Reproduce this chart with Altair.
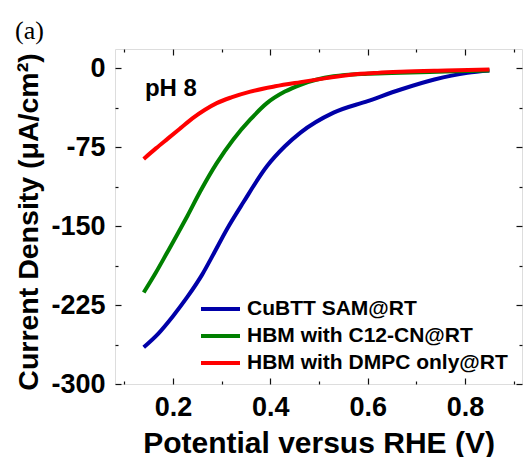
import altair as alt
import pandas as pd

# ---- data ----
series_names = ["CuBTT SAM@RT", "HBM with C12-CN@RT", "HBM with DMPC only@RT"]
series_colors = ["#0000A8", "#008000", "#FF0000"]

blue_x = [0.14, 0.17, 0.20, 0.23, 0.26, 0.285, 0.31, 0.345, 0.393, 0.43, 0.462, 0.53, 0.60, 0.668, 0.737, 0.805, 0.85]
blue_y = [-265, -252, -235.5, -217, -196, -175, -153.5, -127, -93, -74, -61, -42, -31, -20, -10.5, -4.2, -2]

green_x = [0.14, 0.165, 0.187, 0.21, 0.23, 0.256, 0.29, 0.324, 0.359, 0.393, 0.43, 0.462, 0.53, 0.60, 0.668, 0.76, 0.85]
green_y = [-213, -194, -176, -157, -140, -117, -90, -67.5, -48.5, -33, -22, -15.5, -7.5, -5, -4, -3, -2]

red_x = [0.14, 0.165, 0.19, 0.215, 0.24, 0.265, 0.29, 0.32, 0.359, 0.41, 0.462, 0.515, 0.565, 0.62, 0.668, 0.76, 0.85]
red_y = [-86, -76, -66.5, -57, -47.5, -39.5, -33, -27.5, -22, -17, -13, -9.2, -6, -4.2, -3.2, -2, -1]

x_major = [0.2, 0.4, 0.6, 0.8]
x_minor = [0.1, 0.3, 0.5, 0.7, 0.9]
y_major = [0, -75, -150, -225, -300]
y_minor = [-37.5, -112.5, -187.5, -262.5]

x_title = "Potential versus RHE (V)"
y_title = "Current Density (μA/cm²)"
ph_label = "pH 8"
panel_label = "(a)"

rows = []
for name, xs_, ys_, k in [(series_names[0], blue_x, blue_y, 0),
                          (series_names[1], green_x, green_y, 1),
                          (series_names[2], red_x, red_y, 2)]:
    for xv, yv in zip(xs_, ys_):
        rows.append({"series": name, "x": xv, "y": yv, "k": k})
df = pd.DataFrame(rows)

FONT = "Liberation Sans"
xs = alt.Scale(domain=[0.081, 0.917], nice=False, zero=False)
ys = alt.Scale(domain=[-300, 18.5], nice=False, zero=False)

base = alt.Chart(df)

def tick_axis(orient, values, size):
    return alt.Axis(orient=orient, values=values, labels=False, domain=False, grid=False,
                    ticks=True, tickSize={"expr": str(-size)}, tickColor="#111", tickWidth=1.2,
                    title=None)

lines = base.mark_line(strokeWidth=4, interpolate="monotone").encode(
    x=alt.X("x:Q", scale=xs, axis=alt.Axis(
        orient="bottom", values=x_major, format=".1f", ticks=False, domain=False, grid=False,
        labelFont=FONT, labelFontWeight="bold", labelFontSize=27, labelColor="black",
        labelPadding=10,
        title=x_title, titleFont=FONT, titleFontWeight="bold", titleFontSize=30,
        titleColor="black", titleY=68, titleBaseline="alphabetic")),
    y=alt.Y("y:Q", scale=ys, axis=alt.Axis(
        orient="left", values=y_major, ticks=False, domain=False, grid=False,
        labelExpr="toString(datum.value)",
        labelFont=FONT, labelFontWeight="bold", labelFontSize=27, labelColor="black",
        labelPadding=10,
        title=y_title, titleFont=FONT, titleFontWeight="bold", titleFontSize=28.5,
        titleColor="black", titleX=-78, titleY=172.5, titleBaseline="alphabetic")),
    color=alt.Color("series:N", scale=alt.Scale(domain=series_names, range=series_colors),
                    legend=alt.Legend(orient="none", legendX=84, legendY=246.5, title=None,
                                      symbolType="stroke", symbolStrokeWidth=4, symbolSize=1521,
                                      labelFont=FONT, labelFontSize=21, labelFontWeight="bold",
                                      labelColor="black", labelOffset=5, rowPadding=0,
                                      clipHeight=27, labelLimit=0, padding=0)),
    order=alt.Order("k:Q"),
)

def tick_layer(xo, xv, xsz, yo, yv, ysz):
    return base.mark_line(opacity=0).encode(
        x=alt.X("x:Q", scale=xs, axis=tick_axis(xo, xv, xsz)),
        y=alt.Y("y:Q", scale=ys, axis=tick_axis(yo, yv, ysz)),
    )

t1 = tick_layer("bottom", x_major, 6, "left", y_major, 6)
t2 = tick_layer("bottom", x_minor, 3, "left", y_minor, 3)
t3 = tick_layer("top", x_major, 6, "right", y_major, 6)
t4 = tick_layer("top", x_minor, 3, "right", y_minor, 3)

ph = alt.Chart(pd.DataFrame({"x": [0.1425], "y": [-26.6], "t": [ph_label]})).mark_text(
    font=FONT, fontWeight="bold", fontSize=24, align="left", baseline="alphabetic", color="black"
).encode(x=alt.X("x:Q", scale=xs, axis=None), y=alt.Y("y:Q", scale=ys, axis=None), text="t:N")

chart = alt.layer(lines, t1, t2, t3, t4, ph).resolve_axis(
    x="independent", y="independent"
).properties(
    width=407, height=335,
    title=alt.TitleParams(text=panel_label, anchor="start", frame="group", dx=-100, dy=28,
                          offset=11, baseline="alphabetic", font="Liberation Serif", fontSize=26,
                          fontWeight="normal", color="black"),
    autosize=alt.AutoSizeParams(type="none"),
    padding={"left": 115, "top": 49, "right": 1, "bottom": 73},
).configure_view(stroke="#222", strokeWidth=1.5).configure(background="white")

chart.save("out.html", embed_options={"renderer": "svg", "actions": False})
